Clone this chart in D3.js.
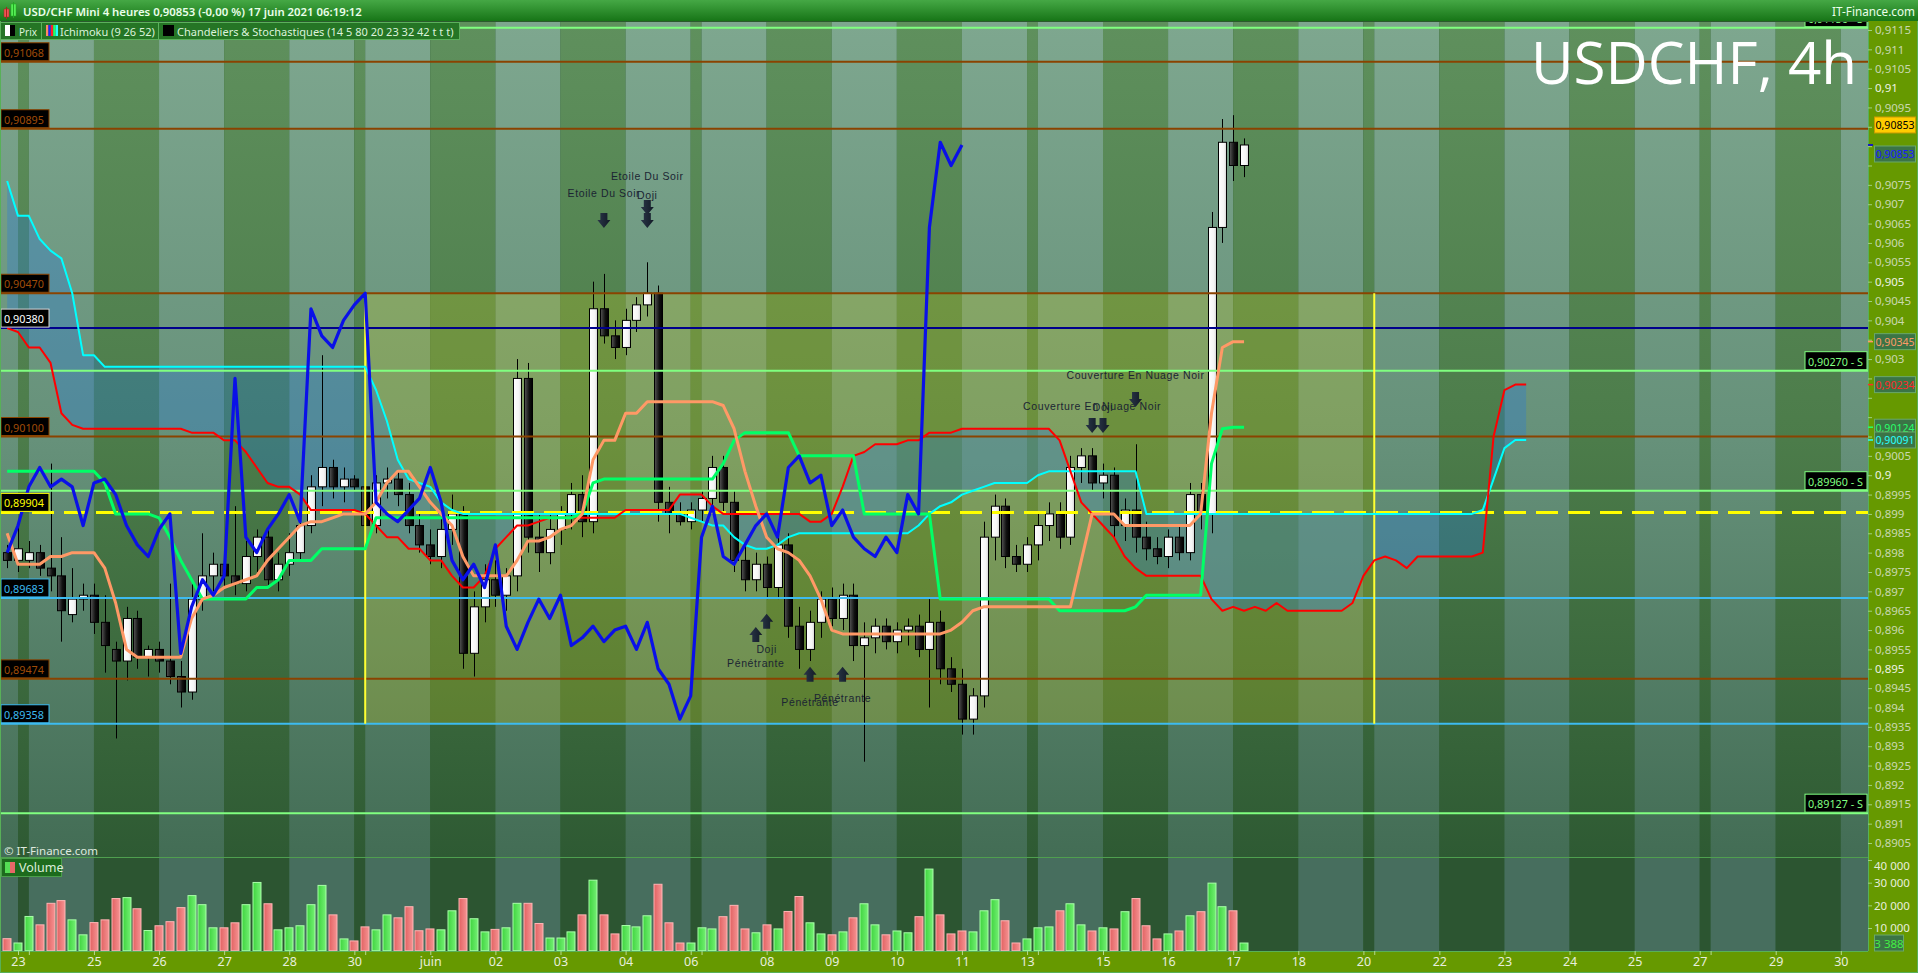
<!DOCTYPE html>
<html><head><meta charset="utf-8"><title>USDCHF 4h</title>
<script src="https://cdn.jsdelivr.net/npm/d3@7/dist/d3.min.js"></script>
<style>
html,body{margin:0;padding:0;background:#2b5a2e;overflow:hidden;}
svg{display:block;}
</style></head><body>
<svg id="chart" width="1918" height="973"></svg>
<script>
// ================= DATA =================
const openP = [.8980,.8978,.8978,.8980,.8976,.8974,.8964,.8968,.8969,.8962,
.8955,.8952,.8963,.8953,.8955,.8952,.8948,.8944,.8968,.8974,
.8977,.8974,.8972,.8979,.8984,.8973,.8977,.8980,.8987,.8997,
.9002,.8997,.8999,.8997,.8987,.8998,.8999,.8995,.8987,.8982,
.8979,.8986,.8990,.8954,.8966,.8973,.8969,.8974,.9025,.8984,
.8980,.8986,.8990,.8995,.8988,.9043,.9036,.9033,.9040,.9044,
.9047,.8993,.8990,.8988,.8991,.8994,.9002,.8993,.8978,.8973,
.8977,.8971,.8982,.8961,.8955,.8962,.8968,.8963,.8969,.8956,
.8958,.8961,.8957,.8960,.8961,.8955,.8962,.8950,.8946,.8937,
.8943,.8984,.8992,.8979,.8977,.8982,.8987,.8990,.8984,.9002,
.9005,.8998,.9000,.8987,.8991,.8984,.8981,.8979,.8984,.8980,
.8995,.8990,.9064,.9086,.9080];
const highP = [.8982,.8988,.8983,.8982,.9003,.8984,.8976,.8972,.8972,.8969,
.8957,.8966,.8965,.8956,.8957,.8972,.8952,.8972,.8985,.8980,
.8980,.8992,.8983,.8986,.8986,.8980,.8985,.8992,.9000,.9031,
.9004,.9002,.9000,.8999,.9000,.9002,.9001,.8998,.8990,.8986,
.8990,.8995,.8992,.8970,.8977,.8978,.8976,.9030,.9029,.8990,
.8990,.8992,.8998,.9000,.9050,.9052,.9040,.9043,.9046,.9055,
.9049,.8997,.8993,.8993,.8996,.9005,.9005,.8996,.8982,.8980,
.8979,.8985,.8985,.8966,.8965,.8970,.8971,.8972,.8972,.8962,
.8963,.8963,.8962,.8963,.8964,.8968,.8965,.8953,.8950,.8945,
.8988,.8995,.8994,.8982,.8984,.8990,.8993,.8993,.9005,.9007,
.9007,.9003,.9002,.8994,.9008,.8988,.8984,.8986,.8987,.8998,
.8998,.9068,.9092,.9093,.9087];
const lowP = [.8976,.8975,.8976,.8974,.8970,.8957,.8962,.8965,.8959,.8949,
.8932,.8947,.8950,.8948,.8949,.8946,.8940,.8942,.8965,.8970,
.8971,.8969,.8970,.8975,.8971,.8970,.8974,.8978,.8985,.8992,
.8994,.8993,.8996,.8984,.8985,.8994,.8992,.8985,.8980,.8977,
.8976,.8982,.8950,.8948,.8962,.8966,.8965,.8970,.8980,.8975,
.8977,.8982,.8986,.8984,.8985,.9034,.9030,.9031,.9037,.9041,
.8988,.8985,.8987,.8986,.8988,.8990,.8990,.8975,.8970,.8970,
.8968,.8968,.8958,.8950,.8952,.8958,.8961,.8960,.8952,.8926,
.8954,.8955,.8954,.8956,.8953,.8940,.8946,.8944,.8933,.8933,
.8940,.8978,.8976,.8975,.8975,.8978,.8983,.8981,.8982,.8998,
.8996,.8994,.8984,.8983,.8980,.8978,.8977,.8976,.8978,.8978,
.8986,.8985,.9060,.9076,.9077];
const closeP = [.8978,.8981,.8980,.8976,.8974,.8965,.8968,.8969,.8962,.8956,
.8952,.8963,.8953,.8955,.8952,.8948,.8944,.8968,.8974,.8977,
.8974,.8972,.8979,.8984,.8973,.8977,.8980,.8987,.8997,.9002,
.8997,.8999,.8997,.8987,.8998,.8999,.8995,.8987,.8982,.8979,
.8986,.8990,.8954,.8966,.8973,.8969,.8974,.9025,.8984,.8980,
.8986,.8990,.8995,.8988,.9043,.9036,.9033,.9040,.9044,.9047,
.8993,.8990,.8988,.8991,.8994,.9002,.8993,.8978,.8973,.8977,
.8971,.8982,.8961,.8955,.8962,.8968,.8963,.8969,.8956,.8958,
.8961,.8957,.8960,.8961,.8955,.8962,.8950,.8946,.8937,.8943,
.8984,.8992,.8979,.8977,.8982,.8987,.8990,.8984,.9002,.9005,
.8998,.9000,.8987,.8991,.8984,.8981,.8979,.8984,.8980,.8995,
.8990,.9064,.9086,.9080,.90853];
const volumeV = [5300,3400,15100,11400,20900,22100,13600,7000,12400,13600,
23000,23400,18500,8900,11000,12800,19000,24300,20300,10100,
10100,12300,20300,30100,20700,9200,10100,11000,20300,28800,
15800,5200,4300,10500,9200,15800,14500,19400,8800,9600,
9200,17600,23000,14100,8300,9400,10100,20900,20900,12000,
5600,5600,8300,15800,31100,15800,7400,11100,10500,15400,
29300,12300,3400,3400,10100,9600,15000,20000,9600,7900,
11400,9600,17300,23900,12300,7400,7000,8300,14500,20700,
11400,7000,8700,7900,15000,36000,15800,7400,8700,8300,
17600,22500,13200,3400,5200,10100,10500,17600,20700,11400,
8700,10100,9600,17200,23000,11000,5200,7400,8700,15400,
17200,29800,19400,17600,3388];
const tenkan = [.8985,.8977,.8977,.8977,.8979,.8979,.8980,.8980,.8980,.8976,
.8967,.8955,.8953,.8953,.8953,.8953,.8953,.8963,.8968,.8969,
.8971,.8972,.8973,.8974,.8978,.8981,.8984,.8987,.8988,.8988,
.8989,.8990,.8990,.8990,.8993,.8998,.9001,.9001,.8997,.8993,
.8990,.8987,.8979,.8974,.8974,.8974,.8974,.8978,.8983,.8983,
.8984,.8986,.8987,.8990,.9004,.9009,.9009,.9016,.9016,.9019,
.9019,.9019,.9019,.9019,.9019,.9019,.9018,.9012,.9001,.8992,
.8984,.8981,.8980,.8978,.8974,.8968,.8960,.8959,.8959,.8959,
.8959,.8959,.8959,.8959,.8959,.8959,.8959,.8960,.8962,.8965,
.8966,.8966,.8966,.8966,.8966,.8966,.8966,.8966,.8966,.8978,
.8990,.8990,.8990,.8987,.8987,.8987,.8987,.8987,.8987,.8987,
.8990,.9016,.9033,.90345,.90345];
const kijun = [.9001,.9001,.9001,.9001,.9001,.9001,.9001,.9001,.9001,.8998,
.8990,.8990,.8990,.8990,.8989,.8984,.8978,.8973,.8968,.8968,
.8968,.8968,.8968,.8971,.8971,.8973,.8978,.8978,.8978,.8981,
.8981,.8981,.8981,.8981,.8989,.8989,.8989,.8989,.8989,.8989,
.8989,.8989,.8989,.8989,.8989,.8989,.8989,.8989,.8989,.8989,
.8989,.8989,.8989,.8990,.8998,.8999,.8999,.8999,.8999,.8999,
.8999,.8999,.8999,.8999,.8999,.8999,.9003,.9009,.9011,.9011,
.9011,.9011,.9011,.9005,.9005,.9005,.9005,.9005,.9005,.8990,
.8990,.8990,.8990,.8990,.8990,.8990,.8968,.8968,.8968,.8968,
.8968,.8968,.8968,.8968,.8968,.8968,.8968,.8965,.8965,.8965,
.8965,.8965,.8965,.8965,.8966,.8969,.8969,.8969,.8969,.8969,
.8969,.9003,.9012,.90124,.90124];
const senkouA = [.9038,.9037,.9033,.9033,.9029,.9016,.9013,.9012,.9012,.9012,
.9012,.9012,.9012,.9012,.9012,.9012,.9012,.9011,.9011,.9011,
.9009,.9009,.9006,.9002,.8998,.8997,.8997,.8995,.8991,.8991,
.8991,.8991,.8991,.8990,.8987,.8984,.8984,.8981,.8981,.8978,
.8978,.8974,.8971,.8971,.8974,.8981,.8984,.8987,.8987,.8988,
.8989,.8989,.8989,.8989,.8989,.8989,.8989,.8991,.8991,.8991,
.8991,.8991,.8995,.8995,.8995,.8992,.8990,.8990,.8990,.8990,
.8990,.8990,.8990,.8990,.8988,.8988,.8990,.8997,.9005,.9006,
.9008,.9008,.9008,.9009,.9009,.9011,.9011,.9011,.9012,.9012,
.9012,.9012,.9012,.9012,.9012,.9012,.9012,.9009,.9001,.8993,
.8990,.8987,.8984,.8979,.8976,.8974,.8974,.8974,.8974,.8974,
.8974,.8968,.8965,.8966,.8965,.8966,.8965,.8967,.8965,.8965,
.8965,.8965,.8965,.8965,.8967,.8974,.8978,.8979,.8978,.8976,
.8979,.8979,.8979,.8979,.8979,.8979,.8980,.9010,.9022,.90234,
.90234];
const senkouB = [.9076,.9067,.9067,.9061,.9058,.9056,.9047,.9031,.9031,.9028,
.9028,.9028,.9028,.9028,.9028,.9028,.9028,.9028,.9028,.9028,
.9028,.9028,.9028,.9028,.9028,.9028,.9028,.9028,.9028,.9028,
.9028,.9028,.9028,.9028,.9022,.9014,.9004,.8999,.8998,.8997,
.8993,.8991,.8990,.8990,.8990,.8990,.8990,.8990,.8990,.8990,
.8990,.8990,.8990,.8990,.8990,.8990,.8990,.8990,.8990,.8990,
.8990,.8990,.8990,.8989,.8988,.8987,.8987,.8984,.8982,.8981,
.8981,.8982,.8984,.8985,.8985,.8985,.8985,.8985,.8985,.8985,
.8985,.8985,.8985,.8985,.8987,.8990,.8992,.8993,.8995,.8996,
.8997,.8998,.8998,.8998,.8998,.9000,.9001,.9001,.9001,.9001,
.9001,.9001,.9001,.9001,.9001,.8990,.8990,.8990,.8990,.8990,
.8990,.8990,.8990,.8990,.8990,.8990,.8990,.8990,.8990,.8990,
.8990,.8990,.8990,.8990,.8990,.8990,.8990,.8990,.8990,.8990,
.8990,.8990,.8990,.8990,.8990,.8990,.8991,.8999,.9007,.90091,
.90091];
// Chikou span = closes displaced 26 periods back
const chikouShift = 26;

const dayTickIdx = [1,2,8,14,20,26,32,33,39,45,51,57,63,64,70,76,82,88,94,95,101,107,113,119,125,126,132,138,144,150,156,157,163,169];
const dayTickLbl = ['23','','25','26','27','28','30','','juin','02','03','04','06','','08','09','10','11','13','','15','16','17','18','20','','22','23','24','25','27','','29','30'];

const priceTicks = [0.8905,0.891,0.8915,0.892,0.8925,0.893,0.8935,0.894,0.8945,0.895,0.8955,0.896,0.8965,0.897,0.8975,0.898,0.8985,0.899,0.8995,0.9,0.9005,0.901,0.9015,0.902,0.9025,0.903,0.9035,0.904,0.9045,0.905,0.9055,0.906,0.9065,0.907,0.9075,0.908,0.9085,0.909,0.9095,0.91,0.9105,0.911,0.9115];
const volTicks = [10000,20000,30000,40000];

const levelVals = [0.91068,0.90895,0.90470,0.90380,0.90100,0.89904,0.89683,0.89474,0.89358];
const levelKind = ['brown','brown','brown','navy','brown','yellow','sky','brown','sky'];
const supportVals = [0.91156,0.90270,0.89960,0.89127];

const boxFromIdx = 33, boxToIdx = 126, boxTop = 0.90470, boxBottom = 0.89358;

const annText  = ['Etoile Du Soir','Etoile Du Soir','Doji','Doji','Pénétrante','Pénétrante','Pénétrante','Couverture En Nuage Noir','Couverture En Nuage Noir','Doji'];
const annIdx   = [55,59,59,70,69,74,77,104,100,101];
const annPrice = [0.90719,0.90763,0.90713,0.89541,0.89505,0.89404,0.89414,0.90249,0.90168,0.90166];
const arrowIdx   = [55,59,59,69,70,74,77,104,100,101];
const arrowDir   = ['down','down','down','up','up','up','up','down','down','down'];
const arrowPrice = [0.90677,0.90711,0.90677,0.89608,0.89642,0.89505,0.89505,0.90215,0.90148,0.90148];

const badgeVals  = [0.90853,0.90853,0.90345,0.90234,0.90124,0.90091];
const badgeKind  = ['price','chikou','tenkan','senkouA','kijun','senkouB'];

// ================= LAYOUT =================
const W=1918,H=973,plotR=1868,pTop=22,pBot=857,vBot=951;
const x = d3.scaleLinear().domain([0,100]).range([7.15,1092.15]);
const y = d3.scaleLinear().domain([0.8905,0.9115]).range([843,30]);
const yv = d3.scaleLinear().domain([0,40000]).range([950.7,860]);

const svg = d3.select('#chart');
const defs = svg.append('defs');
function grad(id, stops, horiz){
  const g = defs.append('linearGradient').attr('id',id);
  if(horiz) g.attr('x1',0).attr('x2',1).attr('y1',0).attr('y2',0);
  else g.attr('x1',0).attr('x2',0).attr('y1',0).attr('y2',1);
  stops.forEach(s=>g.append('stop').attr('offset',s[0]).attr('stop-color',s[1]));
}
grad('bandLight',[[0,'#7ea78f'],[0.5,'#66917a'],[1,'#436d55']]);
grad('bandDark',[[0,'#5f905d'],[0.5,'#4c7c4a'],[1,'#2e5a33']]);
grad('header',[[0,'#45a845'],[1,'#177517']]);
grad('blackBody',[[0,'#555'],[0.6,'#111'],[1,'#000']],true);
grad('whiteBody',[[0,'#ffffff'],[0.7,'#f4f4f4'],[1,'#cfcfcf']],true);
grad('volG',[[0,'#3fd43f'],[1,'#74f074']],true);
grad('volR',[[0,'#e26262'],[1,'#f59393']],true);
grad('arrowG',[[0,'#2a3648'],[1,'#121a26']],true);

defs.append('clipPath').attr('id','clipP').append('rect').attr('x',0).attr('y',pTop).attr('width',plotR).attr('height',pBot-pTop);
defs.append('clipPath').attr('id','clipV').append('rect').attr('x',0).attr('y',pBot).attr('width',plotR).attr('height',vBot-pBot);

// ---- background bands ----
const bandStarts = [-1].concat(dayTickIdx).concat([175]);
const gBands = svg.append('g');
for(let k=0;k<bandStarts.length-1;k++){
  const x0 = k===0?0:x(bandStarts[k]);
  const x1 = Math.min(plotR, x(bandStarts[k+1]));
  if(x1<=x0) continue;
  const light = k%2===0;
  gBands.append('rect').attr('x',x0).attr('y',pTop).attr('width',x1-x0).attr('height',pBot-pTop)
    .attr('fill', light?'url(#bandLight)':'url(#bandDark)');
  gBands.append('rect').attr('x',x0).attr('y',pBot).attr('width',x1-x0).attr('height',vBot-pBot)
    .attr('fill', light?'#476e5e':'#2c5531');
}

const gP = svg.append('g').attr('clip-path','url(#clipP)');

// box tint
gP.append('rect').attr('x',x(boxFromIdx)).attr('y',y(boxTop)).attr('width',x(boxToIdx)-x(boxFromIdx))
  .attr('height',y(boxBottom)-y(boxTop)).attr('fill','rgba(205,205,25,0.25)');

// cloud
const idxA = d3.range(senkouA.length);
gP.append('path').datum(idxA)
  .attr('d', d3.area().x(i=>x(i)).y0(i=>y(senkouA[i])).y1(i=>y(senkouB[i])))
  .attr('fill','rgba(40,120,220,0.33)');

// candles
const idxC = d3.range(closeP.length);
const gC = gP.append('g');
gC.selectAll('line.w').data(idxC).join('line')
  .attr('x1',i=>Math.round(x(i))+0.5).attr('x2',i=>Math.round(x(i))+0.5)
  .attr('y1',i=>y(highP[i])).attr('y2',i=>y(lowP[i])).attr('stroke','#000').attr('stroke-width',1);
gC.selectAll('rect.b').data(idxC).join('rect')
  .attr('x',i=>Math.round(x(i))-3.5).attr('width',8)
  .attr('y',i=>y(Math.max(openP[i],closeP[i])))
  .attr('height',i=>Math.max(1.5,Math.abs(y(openP[i])-y(closeP[i]))))
  .attr('fill',i=>closeP[i]>=openP[i]?'url(#whiteBody)':'url(#blackBody)')
  .attr('stroke','#000').attr('stroke-width',1);

// horizontal levels
const levelStyle = {
  brown:{line:'#8a4300',text:'#a04c08',border:'#8a4300',w:2},
  navy:{line:'#00008c',text:'#ffffff',border:'#d8d8d8',w:2},
  yellow:{line:'#ffff00',text:'#ffff00',border:'#ffff00',w:3,dash:'22,10'},
  sky:{line:'#3dbbf0',text:'#3dbbf0',border:'#3dbbf0',w:2}
};
levelVals.forEach((v,k)=>{
  const st = levelStyle[levelKind[k]];
  gP.append('line').attr('x1',0).attr('x2',plotR).attr('y1',y(v)).attr('y2',y(v))
    .attr('stroke',st.line).attr('stroke-width',st.w).attr('stroke-dasharray',st.dash||null);
});
supportVals.forEach(v=>{
  gP.append('line').attr('x1',0).attr('x2',plotR).attr('y1',y(v)).attr('y2',y(v))
    .attr('stroke','#80ff80').attr('stroke-width',2);
});
// box verticals
[boxFromIdx,boxToIdx].forEach(i=>{
  gP.append('line').attr('x1',x(i)).attr('x2',x(i)).attr('y1',y(boxTop)).attr('y2',y(boxBottom))
    .attr('stroke','#ffff33').attr('stroke-width',2);
});

// ichimoku lines
function drawLine(arr, color, width){
  gP.append('path').datum(d3.range(arr.length))
    .attr('d', d3.line().x(i=>x(i)).y(i=>y(arr[i])))
    .attr('fill','none').attr('stroke',color).attr('stroke-width',width).attr('stroke-linejoin','round');
}
drawLine(senkouB,'#00ffff',2);
drawLine(senkouA,'#ff0000',2);
drawLine(kijun,'#00ff66',3);
drawLine(tenkan,'#ff9966',3);
const chikou = closeP.slice(chikouShift);
drawLine(chikou,'#0a10e8',3.2);

// annotations
const gA = gP.append('g');
annText.forEach((t,k)=>{
  gA.append('text').attr('x',x(annIdx[k])).attr('y',y(annPrice[k])).attr('text-anchor','middle')
    .attr('font-family','Liberation Sans, Arial, sans-serif').attr('font-size',10.5).attr('letter-spacing',0.6)
    .attr('fill','#1b2533').text(t);
});
arrowIdx.forEach((i,k)=>{
  const cx = x(i), y0 = y(arrowPrice[k]);
  let d;
  if(arrowDir[k]==='down') d = `M${cx-3.5},${y0}L${cx+3.5},${y0}L${cx+3.5},${y0+7}L${cx+6.5},${y0+7}L${cx},${y0+15}L${cx-6.5},${y0+7}L${cx-3.5},${y0+7}Z`;
  else d = `M${cx},${y0}L${cx+6.5},${y0+8}L${cx+3.5},${y0+8}L${cx+3.5},${y0+15}L${cx-3.5},${y0+15}L${cx-3.5},${y0+8}L${cx-6.5},${y0+8}Z`;
  gA.append('path').attr('d',d).attr('fill','url(#arrowG)');
});

// level labels (left)
function fitText(sel, w){
  const l = sel.node().getComputedTextLength();
  const fs = parseFloat(sel.attr('font-size'));
  if(l>0) sel.attr('font-size', fs*w/l);
}
const fmt5 = v => d3.format('.5f')(v).replace('.',',');
levelVals.forEach((v,k)=>{
  const st = levelStyle[levelKind[k]];
  const yy = y(v);
  gP.append('rect').attr('x',1).attr('y',yy-19).attr('width',48).attr('height',18)
    .attr('fill','#000').attr('stroke',st.border).attr('stroke-width',1);
  const t = gP.append('text').attr('x',4).attr('y',yy-5).attr('font-family','Noto Sans, sans-serif')
    .attr('font-size',12).attr('fill',st.text).text(fmt5(v));
  fitText(t,40);
});
supportVals.forEach(v=>{
  const yy = y(v);
  gP.append('rect').attr('x',1805).attr('y',yy-19).attr('width',62).attr('height',18)
    .attr('fill','#000').attr('stroke','#80ff80').attr('stroke-width',1);
  const t = gP.append('text').attr('x',1808).attr('y',yy-5).attr('font-family','Noto Sans, sans-serif')
    .attr('font-size',12).attr('fill','#80ff80').text(fmt5(v)+' - S');
  fitText(t,55);
});

// big title
const tt = gP.append('text').attr('x',1857).attr('y',84).attr('text-anchor','end')
  .attr('font-family','Open Sans, Noto Sans, sans-serif').attr('font-size',60).attr('fill','#ffffff').text('USDCHF, 4h');
fitText(tt,326);

// copyright
svg.append('text').attr('x',4).attr('y',855).attr('font-family','Noto Sans, sans-serif').attr('font-size',11.5)
  .attr('fill','#dfe9df').text('© IT-Finance.com');

// ---- volume ----
const gV = svg.append('g').attr('clip-path','url(#clipV)');
gV.selectAll('rect').data(idxC).join('rect')
  .attr('x',i=>Math.round(x(i))-4).attr('width',8)
  .attr('y',i=>yv(volumeV[i])).attr('height',i=>yv(0)-yv(volumeV[i]))
  .attr('fill',i=>closeP[i]>=openP[i]?'url(#volG)':'url(#volR)')
  .attr('stroke',i=>closeP[i]>=openP[i]?'#a8ffa8':'#ffb4b4').attr('stroke-width',1);
svg.append('line').attr('x1',0).attr('x2',plotR).attr('y1',pBot+0.5).attr('y2',pBot+0.5).attr('stroke','#4f9f4f').attr('stroke-width',1);
// volume legend
svg.append('rect').attr('x',1.5).attr('y',858.5).attr('width',60).attr('height',18).attr('fill','#1d6b1d').attr('stroke','#4aa04a');
svg.append('rect').attr('x',5).attr('y',862).attr('width',5).attr('height',11).attr('fill','#55dd55');
svg.append('rect').attr('x',10).attr('y',862).attr('width',5).attr('height',11).attr('fill','#e86868');
svg.append('text').attr('x',19).attr('y',872).attr('font-family','Noto Sans, sans-serif').attr('font-size',12.5).attr('fill','#dbeedb').text('Volume');

// ---- axes ----
svg.append('rect').attr('x',plotR).attr('y',0).attr('width',W-plotR).attr('height',H).attr('fill','#669900');
svg.append('rect').attr('x',0).attr('y',vBot).attr('width',W).attr('height',H-vBot).attr('fill','#669900');
svg.append('line').attr('x1',plotR+0.5).attr('x2',plotR+0.5).attr('y1',pTop).attr('y2',vBot).attr('stroke','#58b058');
svg.append('line').attr('x1',0).attr('x2',plotR).attr('y1',vBot+0.5).attr('y2',vBot+0.5).attr('stroke','#58b058');
svg.append('rect').attr('x',0.5).attr('y',0.5).attr('width',W-1).attr('height',H-1).attr('fill','none').attr('stroke','#58b058');

// badge layout (needed to hide covered tick labels)
const badgeStyle = {
  price:{bg:'#ffcc00',fg:'#000000',bd:'#c89a00',dy:-20},
  chikou:{bg:'#3b7446',fg:'#1a1aff',bd:'#6aa86a',dy:9},
  tenkan:{bg:'#3b7446',fg:'#ff9a66',bd:'#6aa86a',dy:0},
  senkouA:{bg:'#3b7446',fg:'#ff2a2a',bd:'#6aa86a',dy:0},
  kijun:{bg:'#3b7446',fg:'#2aff6a',bd:'#6aa86a',dy:0},
  senkouB:{bg:'#3b7446',fg:'#2affff',bd:'#6aa86a',dy:0}
};
const badgeCY = badgeVals.map((v,k)=>y(v)+badgeStyle[badgeKind[k]].dy);

const fmtTick = v => d3.format('.4f')(v).replace(/0+$/,'').replace(/\.$/,'').replace('.',',');
const ax = svg.append('g').attr('transform',`translate(${plotR},0)`)
  .call(d3.axisRight(y).tickValues(priceTicks).tickSize(4).tickFormat(fmtTick));
ax.select('.domain').remove();
ax.selectAll('line').attr('stroke','#9fd07f');
ax.selectAll('text').attr('x',7).attr('font-family','Noto Sans, sans-serif').attr('font-size',11.5)
  .attr('fill',d=>(Math.round(d*10000)%50===0)?'#eef3e4':'#c9d8b0')
  .attr('display',d=>badgeCY.some(c=>Math.abs(c-y(d))<14)?'none':null);

const axv = svg.append('g').attr('transform',`translate(${plotR},0)`)
  .call(d3.axisRight(yv).tickValues(volTicks).tickSize(4).tickFormat(v=>d3.format(',')(v).replace(/,/g,' ')));
axv.select('.domain').remove();
axv.selectAll('line').attr('stroke','#9fd07f');
axv.selectAll('text').attr('x',6).attr('font-family','Noto Sans, sans-serif').attr('font-size',11.5).attr('fill','#e6eedc')
  .attr('dy',d=>d===40000?'0.85em':'0.32em');

const axx = svg.append('g').attr('transform',`translate(0,${vBot})`)
  .call(d3.axisBottom(x).tickValues(dayTickIdx).tickSize(4).tickFormat((d,i)=>dayTickLbl[i]));
axx.select('.domain').remove();
axx.selectAll('line').attr('stroke','#b5d890');
axx.selectAll('text').attr('font-family','Noto Sans, sans-serif').attr('font-size',12.5).attr('fill','#e6eedc').attr('y',6);

// right badges
badgeVals.forEach((v,k)=>{
  const st = badgeStyle[badgeKind[k]];
  const cy = badgeCY[k];
  svg.append('line').attr('x1',plotR).attr('x2',plotR+5).attr('y1',y(v)).attr('y2',y(v)).attr('stroke',st.fg).attr('stroke-width',1.5);
  svg.append('rect').attr('x',1874.5).attr('y',cy-8).attr('width',41).attr('height',16).attr('fill',st.bg).attr('stroke',st.bd);
  const t = svg.append('text').attr('x',1895).attr('y',cy+4.5).attr('text-anchor','middle').attr('font-family','Noto Sans, sans-serif')
    .attr('font-size',12).attr('fill',st.fg).text(fmt5(v));
  fitText(t,39);
});
{
  const v = volumeV[volumeV.length-1], cy = yv(v);
  svg.append('rect').attr('x',1874.5).attr('y',cy-8).attr('width',29).attr('height',16).attr('fill','#3b7446').attr('stroke','#6aa86a');
  svg.append('text').attr('x',1889).attr('y',cy+4.5).attr('text-anchor','middle').attr('font-family','Noto Sans, sans-serif')
    .attr('font-size',11.5).attr('fill','#44ee44').text(d3.format(',')(v).replace(/,/g,' '));
}

// ---- header ----
svg.append('rect').attr('x',0).attr('y',0).attr('width',W).attr('height',21).attr('fill','url(#header)');
svg.append('rect').attr('x',4).attr('y',9).attr('width',5).attr('height',8).attr('fill','#ee5555').attr('stroke','#aa2222').attr('stroke-width',0.5);
svg.append('rect').attr('x',11).attr('y',4).attr('width',5).attr('height',12).attr('fill','#55ee55').attr('stroke','#22aa22').attr('stroke-width',0.5);
svg.append('line').attr('x1',6.5).attr('x2',6.5).attr('y1',7).attr('y2',19).attr('stroke','#aa2222');
svg.append('line').attr('x1',13.5).attr('x2',13.5).attr('y1',2).attr('y2',18).attr('stroke','#22aa22');
const ht = svg.append('text').attr('x',23).attr('y',15.5).attr('font-family','Noto Sans, sans-serif').attr('font-weight',600)
  .attr('font-size',13).attr('fill','#eaffea').text('USD/CHF Mini 4 heures 0,90853 (-0,00 %) 17 juin 2021 06:19:12');
fitText(ht,339);
const it = svg.append('text').attr('x',1915).attr('y',15.5).attr('text-anchor','end').attr('font-family','Noto Sans, sans-serif')
  .attr('font-size',13).attr('fill','#eaffea').text('IT-Finance.com');
fitText(it,83);

// legend row
const legBoxes = [[0,41,'Prix',18,19],[41,117,'Ichimoku (9 26 52)',95,60],[158,301,'Chandeliers & Stochastiques (14 5 80 20 23 32 42 t t t)',277,177]];
legBoxes.forEach(b=>{
  svg.append('rect').attr('x',b[0]+0.5).attr('y',22.5).attr('width',b[1]).attr('height',17).attr('fill','#257525').attr('stroke','#5cb05c');
  const t = svg.append('text').attr('x',b[4]).attr('y',35.5).attr('font-family','Noto Sans, sans-serif').attr('font-size',13)
    .attr('fill','#dcf3dc').text(b[2]);
  fitText(t,b[3]);
});
// legend icons
svg.append('rect').attr('x',5).attr('y',25).attr('width',5).attr('height',11).attr('fill','#ffffff');
svg.append('rect').attr('x',10).attr('y',25).attr('width',5).attr('height',11).attr('fill','#000000');
['#ff8866','#2222ff','#ff2222','#22ff66','#22ffff'].forEach((c,k)=>{
  svg.append('rect').attr('x',46+k*2.4).attr('y',25).attr('width',2.4).attr('height',11).attr('fill',c);
});
svg.append('rect').attr('x',163).attr('y',25).attr('width',11).attr('height',11).attr('fill','#000');
</script>
</body></html>
